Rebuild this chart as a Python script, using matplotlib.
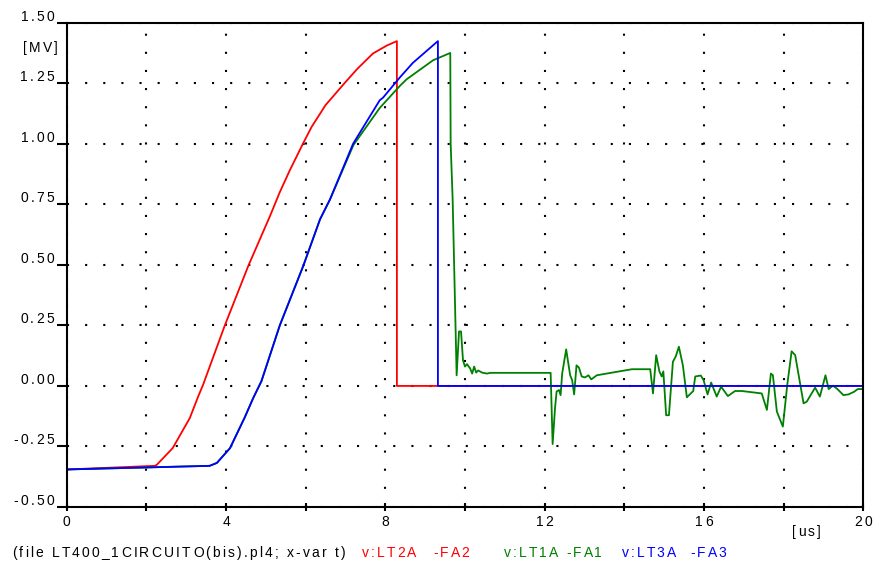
import matplotlib
matplotlib.use("Agg")
import matplotlib.pyplot as plt
from matplotlib.ticker import MultipleLocator
from matplotlib.font_manager import FontProperties
from matplotlib.transforms import IdentityTransform

plt.rcParams['font.family'] = ['Liberation Sans', 'DejaVu Sans']

# v:LT2A -FA2 (red)
t_red = [0, 2.21, 2.26, 2.66, 3.09, 3.30, 3.42, 3.97, 4.56, 5.10, 5.35, 5.60,
         5.93, 6.15, 6.50, 7.00, 7.30, 7.69, 8.04, 8.29, 8.29, 20]
v_red = [-0.345, -0.33, -0.326, -0.257, -0.133, -0.044, 0.003, 0.25, 0.496, 0.70,
         0.80, 0.89, 1.0, 1.07, 1.16, 1.255, 1.31, 1.373, 1.406, 1.424, 0.0, 0.0]

# v:LT1A -FA1 (green)
t_green = [0, 3.59, 3.77, 4.1, 4.47, 4.68, 4.89, 5.35, 5.94, 6.36, 6.61, 7.2,
           7.86, 8.37, 8.54, 9.2, 9.63, 9.64, 9.69, 9.79, 9.85, 9.9, 9.95, 10.0,
           10.05, 10.13, 10.18, 10.23, 10.28, 10.33, 10.43, 10.55, 10.63, 12.15,
           12.2, 12.26, 12.3, 12.36, 12.4, 12.44, 12.54, 12.64, 12.69, 12.74, 12.8,
           12.86, 12.93, 13.01, 13.1, 13.17, 13.31, 14.19, 14.65, 14.72, 14.8,
           14.88, 14.94, 14.98, 15.05, 15.12, 15.22, 15.29, 15.37, 15.47, 15.57,
           15.73, 15.78, 15.92, 15.99, 16.09, 16.18, 16.32, 16.43, 16.6, 16.78,
           16.95, 17.45, 17.58, 17.68, 17.73, 17.83, 17.98, 18.09, 18.2, 18.29,
           18.5, 18.58, 18.79, 18.91, 19.05, 19.13, 19.24, 19.35, 19.5, 19.63,
           19.77, 19.86, 20.0]
v_green = [-0.345, -0.33, -0.318, -0.257, -0.13, -0.051, 0.02, 0.25, 0.496, 0.688,
           0.77, 0.995, 1.148, 1.24, 1.267, 1.345, 1.375, 1.0, 0.77, 0.044, 0.225,
           0.225, 0.105, 0.08, 0.09, 0.072, 0.051, 0.08, 0.055, 0.064, 0.055, 0.051,
           0.054, 0.054, -0.24, -0.092, -0.023, -0.017, -0.038, 0.051, 0.151, 0.044,
           0.024, -0.035, 0.085, 0.076, 0.039, 0.035, 0.044, 0.027, 0.044, 0.069,
           0.069, -0.031, 0.127, 0.06, 0.039, 0.06, -0.121, -0.121, 0.1, 0.121,
           0.162, 0.085, -0.047, -0.021, 0.039, 0.043, 0.024, -0.035, 0.014, -0.044,
           -0.003, -0.042, -0.021, -0.021, -0.031, -0.099, 0.051, 0.044, -0.106,
           -0.168, 0.003, 0.143, 0.127, -0.072, -0.065, -0.007, -0.044, 0.044,
           -0.013, 0.001, -0.013, -0.038, -0.035, -0.024, -0.013, -0.013]

# v:LT3A -FA3 (blue)
t_blue = [0, 3.59, 3.77, 4.1, 4.47, 4.68, 4.89, 5.35, 5.94, 6.36, 6.61, 7.19,
          7.86, 7.94, 8.37, 8.69, 9.32, 9.32, 20]
v_blue = [-0.345, -0.33, -0.318, -0.257, -0.13, -0.051, 0.02, 0.25, 0.496, 0.688,
          0.77, 1.0, 1.18, 1.19, 1.275, 1.334, 1.424, 0.0, 0.0]

x_ticks = [0, 4, 8, 12, 16, 20]
y_ticks = [-0.5, -0.25, 0.0, 0.25, 0.5, 0.75, 1.0, 1.25, 1.5]

W, H = 874, 565
fig = plt.figure(figsize=(W / 100, H / 100), dpi=100)
ax = fig.add_axes([66.7 / W, 1 - 507 / H, (863.3 - 66.7) / W, (507 - 22.7) / H])

ax.plot(t_red, v_red, color='#ff0000', lw=1.3)
ax.plot(t_green, v_green, color='#008000', lw=1.3)
ax.plot(t_blue, v_blue, color='#0000ff', lw=1.3)

ax.set_xlim(0, 20)
ax.set_ylim(-0.5, 1.5)
ax.set_xticks(x_ticks)
ax.xaxis.set_minor_locator(MultipleLocator(2))
ax.set_yticks(y_ticks)

grid_style = dict(color='black', lw=1.5, linestyle=(0, (1.0, 7.7)))
ax.grid(which='both', axis='x', **grid_style)
ax.grid(which='major', axis='y', **grid_style)

for s in ax.spines.values():
    s.set_linewidth(1.5)
ax.tick_params(axis='y', direction='out', length=7, width=1.5, labelleft=False)
ax.tick_params(axis='x', which='both', direction='inout', length=6, width=1.5,
               labelbottom=False)

# text with the wide letter spacing of the original plot
renderer = fig.canvas.get_renderer()
FS = 10
TRACK = 2.2
prop = FontProperties(family='Liberation Sans', size=FS)


def adv(s):
    # advance width of s in pixels (trailing spaces included)
    w_bar = renderer.get_text_width_height_descent('|', prop, ismath=False)[0]
    return renderer.get_text_width_height_descent(s + '|', prop, ismath=False)[0] - w_bar


def tracked(x, y, s, color='black', ha='left'):
    total = adv(s) + TRACK * (len(s) - 1)
    if ha == 'right':
        x = x - total
    elif ha == 'center':
        x = x - total / 2
    for i, ch in enumerate(s):
        if ch == ' ':
            continue
        fig.text(x + adv(s[:i]) + TRACK * i, H - y, ch, color=color, fontsize=FS,
                 ha='left', va='center', transform=IdentityTransform())


for v in y_ticks:
    py = H - ax.transData.transform((0, v))[1]
    tracked(54, py - 6, f"{v:.2f}", ha='right')
for t in x_ticks:
    px = ax.transData.transform((t, 0))[0]
    tracked(px, 522, f"{t:d}", ha='center')

tracked(58, 48, "[MV]", ha='right')
tracked(806, 532, "[us]", ha='center')

yb = 553
tracked(12, yb, "(file LT400_1CIRCUITO(bis).pl4; x-var t)")
legend_parts = [
    (362, "v:LT2A", '#ff0000'), (433, "-FA2", '#ff0000'),
    (504, "v:LT1A", '#008000'), (566, "-FA1", '#008000'),
    (622, "v:LT3A", '#0000ff'), (690, "-FA3", '#0000ff'),
]
for x, s, c in legend_parts:
    tracked(x, yb, s, color=c)

fig.savefig("out.png", dpi=100)
